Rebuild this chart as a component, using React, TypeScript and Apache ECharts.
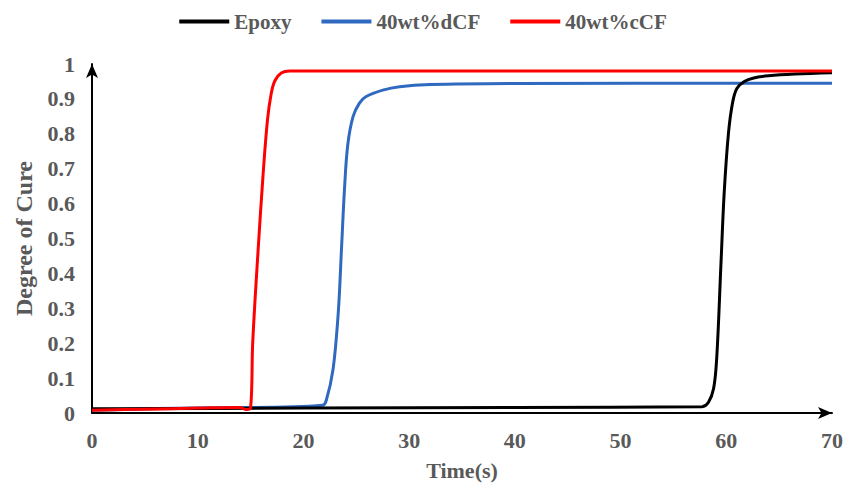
import React, { useEffect, useRef } from "react";
import * as echarts from "echarts";

const seriesNames = ["Epoxy", "40wt%dCF", "40wt%cCF"];
const seriesColors = ["#000000", "#2f69c0", "#ff0000"];
const seriesZ = [3, 2, 4];

const epoxyData: [number, number][] = [
  [0, 0.012], [20, 0.014], [40, 0.016], [57.7, 0.018], [58.3, 0.03], [58.8, 0.07],
  [59.1, 0.16], [59.5, 0.43], [59.8, 0.63], [60.2, 0.8], [60.6, 0.89], [61.0, 0.93],
  [61.7, 0.95], [62.6, 0.96], [64, 0.966], [66.5, 0.971], [70, 0.975],
];

const dcfData: [number, number][] = [
  [0, 0.008], [14, 0.016], [15, 0.016], [21.8, 0.022], [22.15, 0.035], [22.8, 0.125],
  [23.3, 0.29], [23.6, 0.47], [23.9, 0.65], [24.2, 0.77], [24.7, 0.85], [25.3, 0.888],
  [25.9, 0.906], [27.5, 0.925], [29.1, 0.935], [32, 0.941], [40, 0.944], [70, 0.945],
];

const ccfData: [number, number][] = [
  [0, 0.008], [5, 0.011], [10, 0.014], [14, 0.016], [14.6, 0.01], [15.0, 0.014],
  [15.2, 0.2], [15.7, 0.46], [16.2, 0.69], [16.6, 0.84], [16.95, 0.915], [17.3, 0.952],
  [17.9, 0.974], [18.7, 0.98], [30, 0.98], [70, 0.98],
];

const allData = [epoxyData, dcfData, ccfData];

const FONT = "Liberation Serif";
const GRAY = "#595959";

export default function App() {
  const ref = useRef<HTMLDivElement>(null);
  useEffect(() => {
    document.body.style.margin = "0";
    if (!ref.current) return;
    const chart = echarts.init(ref.current, undefined, { renderer: "svg" });
    chart.setOption({
      animation: false,
      legend: {
        top: 6,
        left: "center",
        icon: "rect",
        itemWidth: 50,
        itemHeight: 4,
        itemGap: 30,
        textStyle: { fontFamily: FONT, fontWeight: "bold", fontSize: 21, color: GRAY },
        data: seriesNames,
      },
      grid: { left: 92, right: 13, top: 64, bottom: 78 },
      xAxis: {
        type: "value",
        min: 0,
        max: 70,
        interval: 10,
        name: "Time(s)",
        nameLocation: "middle",
        nameGap: 46,
        nameTextStyle: { fontFamily: FONT, fontWeight: "bold", fontSize: 22, color: GRAY },
        axisLine: { lineStyle: { color: "#000", width: 2 }, symbol: ["none", "arrow"], symbolSize: [9, 14] },
        axisTick: { show: false },
        splitLine: { show: false },
        axisLabel: { fontFamily: FONT, fontWeight: "bold", fontSize: 22, color: GRAY, margin: 16 },
      },
      yAxis: {
        type: "value",
        min: 0,
        max: 1,
        interval: 0.1,
        name: "Degree of Cure",
        nameLocation: "middle",
        nameGap: 56,
        nameRotate: 90,
        nameTextStyle: { fontFamily: FONT, fontWeight: "bold", fontSize: 24, color: GRAY },
        axisLine: { show: true, lineStyle: { color: "#000", width: 2 }, symbol: ["none", "arrow"], symbolSize: [9, 14] },
        axisTick: { show: false },
        splitLine: { show: false },
        axisLabel: { fontFamily: FONT, fontWeight: "bold", fontSize: 22, color: GRAY, margin: 17 },
      },
      series: seriesNames.map((name, i) => ({
        name,
        type: "line",
        data: allData[i],
        symbol: "none",
        smooth: 0.35,
        lineStyle: { color: seriesColors[i], width: 3 },
        itemStyle: { color: seriesColors[i] },
        z: seriesZ[i],
      })),
    });
    return () => chart.dispose();
  }, []);
  return <div ref={ref} style={{ width: 846, height: 491 }} />;
}
